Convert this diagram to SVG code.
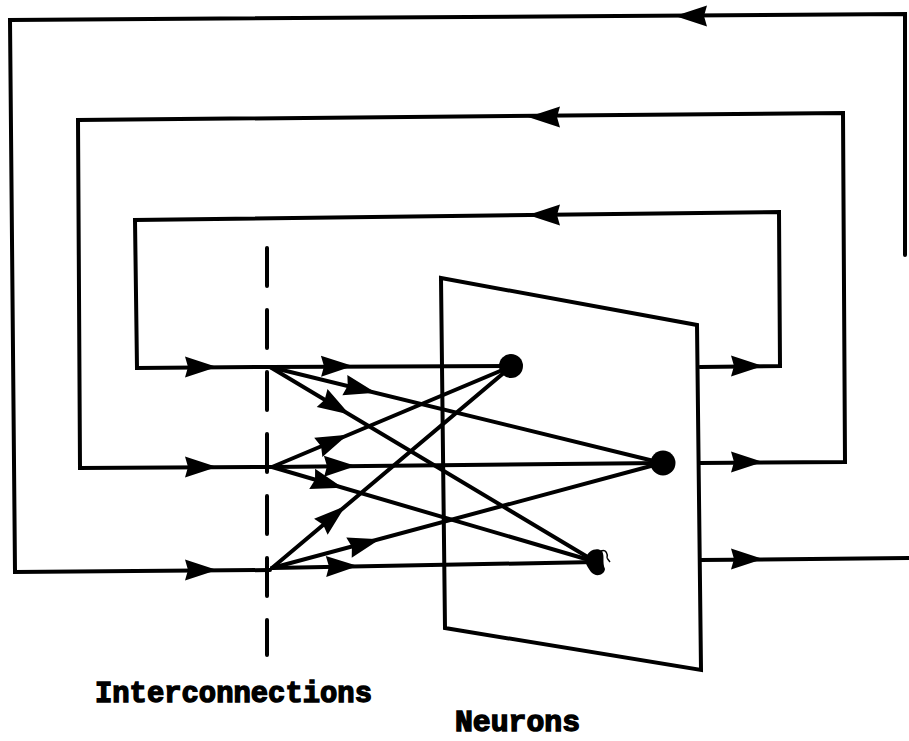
<svg xmlns="http://www.w3.org/2000/svg" width="909" height="741" viewBox="0 0 909 741">
<style>
.ln{fill:none;stroke:#000;stroke-width:4;stroke-linejoin:miter;stroke-linecap:round}
.dash{fill:none;stroke:#000;stroke-width:4;stroke-linecap:round}
.ah{fill:#000}
.lbl{font-family:"Liberation Mono","DejaVu Sans Mono",monospace;font-weight:bold;font-size:29px;fill:#000;stroke:#000;stroke-width:1.4}
</style>
<defs>
<path id="arr" class="ah" d="M3,0 L-29,-10.5 L-26,0 L-29,10.5 Z"/>
</defs>
<rect width="909" height="741" fill="#fff"/>

<g id="neuron-plane">
<polygon class="ln" points="441,278 697,325 701,670 445,628"/>
</g>

<g id="interconnection-plane">
<line class="dash" x1="267" y1="248" x2="267" y2="655" stroke-dasharray="38,24"/>
</g>

<g id="connectors">
<polyline class="ln" points="905,255 905,14 10,20 15,572 270,570"/>
<polyline class="ln" points="700,463 845,462 843,113 78,120 80,468 272,467"/>
<polyline class="ln" points="700,367 780,366 779,212 135,220 137,368 270,367"/>
<polyline class="ln" points="700,560 909,558"/>
<use href="#arr" transform="translate(678,16) rotate(180)"/>
<use href="#arr" transform="translate(531,117) rotate(180)"/>
<use href="#arr" transform="translate(531,215) rotate(180)"/>
<use href="#arr" transform="translate(214,570)"/>
<use href="#arr" transform="translate(214,467)"/>
<use href="#arr" transform="translate(214,367)"/>
<use href="#arr" transform="translate(760,366)"/>
<use href="#arr" transform="translate(760,462)"/>
<use href="#arr" transform="translate(760,559)"/>
<line class="ln" x1="270" y1="367" x2="512" y2="366"/>
<line class="ln" x1="270" y1="367" x2="662" y2="463"/>
<line class="ln" x1="270" y1="367" x2="596" y2="562"/>
<line class="ln" x1="272" y1="467" x2="512" y2="366"/>
<line class="ln" x1="272" y1="467" x2="662" y2="463"/>
<line class="ln" x1="272" y1="467" x2="596" y2="562"/>
<line class="ln" x1="272" y1="568" x2="512" y2="366"/>
<line class="ln" x1="272" y1="568" x2="662" y2="463"/>
<line class="ln" x1="272" y1="568" x2="596" y2="562"/>
<use href="#arr" transform="translate(350,366) rotate(-0.5)"/>
<use href="#arr" transform="translate(373,392) rotate(13.8)"/>
<use href="#arr" transform="translate(347,413) rotate(30.9)"/>
<use href="#arr" transform="translate(345,436) rotate(-23)"/>
<use href="#arr" transform="translate(353,466) rotate(-0.6)"/>
<use href="#arr" transform="translate(340,487) rotate(16.3)"/>
<use href="#arr" transform="translate(343,508) rotate(-40.2)"/>
<use href="#arr" transform="translate(377,540) rotate(-15.1)"/>
<use href="#arr" transform="translate(355,566) rotate(-1.1)"/>
</g>

<g id="neuron-1"><circle cx="511" cy="366" r="12" fill="#000"/></g>
<g id="neuron-2"><circle cx="663" cy="463" r="12.5" fill="#000"/></g>
<g id="neuron-3">
<path d="M586,558 C588,550 597,547 602,551 C605,556 602,562 605,569 C604,576 595,577 591,572 C588,567 584,563 586,558 Z" fill="#000"/>
<path d="M601,551 C606,549 608,554 607,558 M607,558 L610,562" fill="none" stroke="#000" stroke-width="1.4"/>
</g>

<g id="labels">
<text class="lbl" x="95" y="702" textLength="277" lengthAdjust="spacingAndGlyphs">Interconnections</text>
<text class="lbl" x="455" y="731" textLength="125" lengthAdjust="spacingAndGlyphs">Neurons</text>
</g>
</svg>
